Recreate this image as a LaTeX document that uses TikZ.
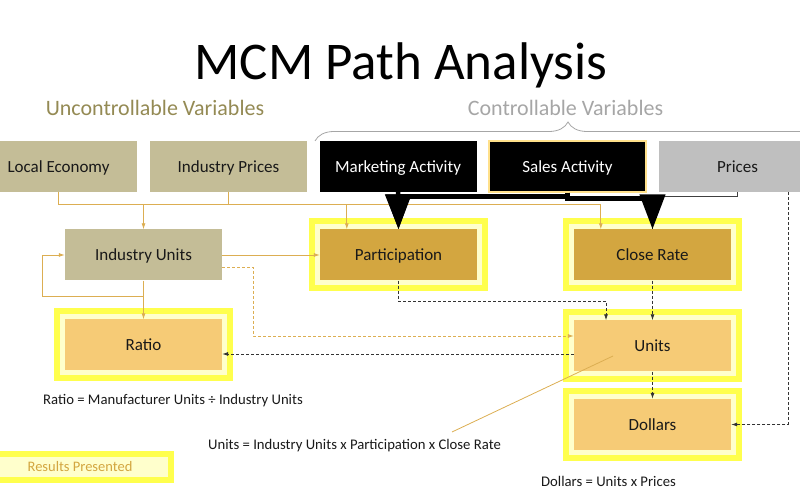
\documentclass[tikz,border=0pt]{standalone}
\usepackage{fontspec}
\setmainfont{Carlito}
\usetikzlibrary{arrows.meta,decorations.pathreplacing}
\definecolor{khaki}{HTML}{C4BD97}
\definecolor{labelolive}{HTML}{948A54}
\definecolor{ctrlgray}{HTML}{A6A6A6}
\definecolor{darkgold}{HTML}{D3A640}
\definecolor{lightgold}{HTML}{F6CB76}
\definecolor{hiyellow}{HTML}{FFFF4D}
\definecolor{paleyellow}{HTML}{FFFFCC}
\definecolor{linegold}{HTML}{DCAE52}
\definecolor{salesrim}{HTML}{FFE08A}
\definecolor{pricegray}{HTML}{BFBFBF}

\begin{document}
\begin{tikzpicture}[x=1pt,y=1pt,
    box/.style={minimum width=157pt, minimum height=51pt, inner sep=0pt,
        font=\fontsize{17}{20}\selectfont, text=black!90, text height=14pt, text depth=2pt},
    uncon/.style={box, fill=khaki},
    result/.style={box, preaction={draw=hiyellow, line width=22pt},
        preaction={draw=paleyellow, line width=10pt}},
    uline/.style={draw=linegold, line width=0.8pt},
    udash/.style={uline, dash pattern=on 3pt off 2pt},
    bdash/.style={draw=black!80, line width=0.8pt, dash pattern=on 3pt off 2pt},
    bigarrow/.style={line width=4.5pt, -{Triangle[length=35pt,width=25pt]}},
    >={Latex[length=6pt,width=4pt]},
    note/.style={font=\fontsize{14.7}{17}\selectfont, anchor=base, text=black!90}]
    \useasboundingbox (0,0) rectangle (800,500);
    \clip (0,0) rectangle (800,500);

    \node[anchor=base, font=\fontsize{53}{60}\selectfont] (title) at (401,420) {MCM Path Analysis};
    \node[anchor=base, font=\fontsize{22}{26}\selectfont, text=labelolive] (uncvar) at (155,384) {Uncontrollable Variables};
    \node[anchor=base, font=\fontsize{22}{26}\selectfont, text=ctrlgray] (ctrlvar) at (565.5,384) {Controllable Variables};
    \draw[ctrlgray, line width=0.8pt, decorate, decoration={brace, amplitude=19pt}] (315,359) -- (821,359);

    \node[uncon] (econ) at (58.5,333.5) {Local Economy};
    \node[uncon] (iprices) at (228.5,333.5) {Industry Prices};
    \node[box, fill=black, text=white] (mkt) at (398,333.5) {Marketing Activity};
    \node[box, fill=black, text=white, draw=salesrim, line width=1.5pt] (sales) at (567.5,333.5) {Sales Activity};
    \node[box, fill=pricegray] (prices) at (737.5,333.5) {Prices};

    \node[uncon] (iunits) at (143.5,245) {Industry Units};
    \node[result, fill=darkgold] (part) at (398.5,245) {Participation};
    \node[result, fill=darkgold] (close) at (652.5,245) {Close Rate};

    \node[result, fill=lightgold] (ratio) at (143.5,155) {Ratio};
    \node[result, fill=lightgold] (units) at (652.5,154) {Units};
    \node[result, fill=lightgold] (dollars) at (652.5,75.5) {Dollars};

    \node[note] (rationote) at (173,95) {Ratio = Manufacturer Units ÷ Industry Units};
    \node[note] (unitsnote) at (354.5,50) {Units = Industry Units x Participation x Close Rate};
    \node[note] (dollarsnote) at (608.5,13) {Dollars = Units x Prices};
    \node[draw=hiyellow, line width=6pt, fill=paleyellow, minimum width=182pt, minimum height=26pt,
        inner sep=0pt, text=darkgold, font=\fontsize{14.5}{16}\selectfont] (legend) at (80,33) {Results Presented};

    \coordinate (bus) at ([yshift=-12pt]econ.south);
    \coordinate (pin) at ([xshift=27pt]part.north west);
    \coordinate (cin) at ([xshift=27pt]close.north west);
    \coordinate (ucall) at (452,68);
    \draw[uline] (econ.south) -- (bus) -- (bus -| cin);
    \draw[uline] (iprices.south) -- (iprices.south |- bus);
    \draw[uline,->] (bus -| iunits.north) -- (iunits.north);
    \draw[uline,->] (bus -| pin) -- (pin);
    \draw[uline,->] (bus -| cin) -- (cin);
    \draw[uline,->] (iunits.east) -- (part.west);
    \draw[uline,->] (iunits.south) -- (ratio.north);
    \draw[uline,->] ([yshift=-16pt]iunits.south) -| ([xshift=-22pt]iunits.west) -- (iunits.west);
    \draw[udash,->] ([yshift=-12pt]iunits.east) -- ++(31,0) |- ([yshift=10pt]units.west);
    \draw[uline] ([xshift=-39.5pt,yshift=-10pt]units.center) -- (ucall);

    \draw[bdash,->] (part.south) -- ++(0,-20.5) -| ([xshift=-46.5pt]units.north);
    \draw[bdash,->] (close.south) -- (units.north);
    \draw[bdash,->] (units.south) -- (dollars.north);
    \draw[bdash,->] ([yshift=-8pt]units.west) -- ([yshift=-8pt]units.west -| ratio.east);
    \draw[bdash,->] ([xshift=50.5pt]prices.south) |- (dollars.east);

    \draw[black!75, line width=0.8pt] (prices.south) -- ++(0,-4) -| (close.north);
    \draw[bigarrow] (mkt.south) -- (part.north);
    \draw[bigarrow] (sales.south) -- ++(0,-4) -| (part.north);
    \draw[bigarrow] (sales.south) -- ++(0,-6) -| (close.north);
\end{tikzpicture}
\end{document}
